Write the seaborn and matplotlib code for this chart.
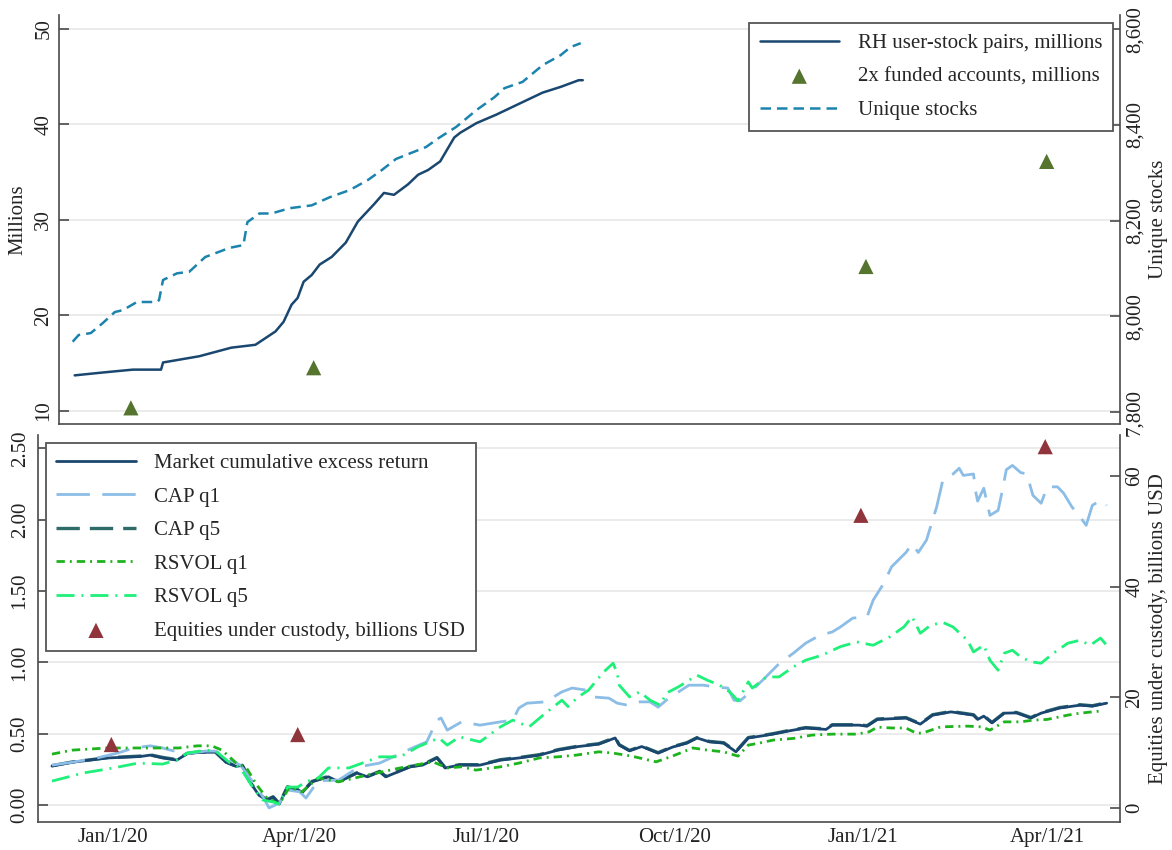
import pandas as pd
import matplotlib.pyplot as plt
import seaborn as sns

# ---------------- top panel data ----------------
rh_dates = ["2019-12-03", "2019-12-17", "2020-01-01", "2020-01-15", "2020-01-16", "2020-02-03",
            "2020-02-19", "2020-03-02", "2020-03-07", "2020-03-12", "2020-03-16", "2020-03-20",
            "2020-03-23", "2020-03-26", "2020-03-30", "2020-04-03", "2020-04-09", "2020-04-16",
            "2020-04-22", "2020-04-30", "2020-05-05", "2020-05-10", "2020-05-17", "2020-05-22",
            "2020-05-27", "2020-06-02", "2020-06-09", "2020-06-12", "2020-06-20", "2020-06-30",
            "2020-07-08", "2020-07-16", "2020-07-23", "2020-08-01", "2020-08-10", "2020-08-12"]
rh_pairs = [13.7, 14.0, 14.3, 14.3, 15.05, 15.7,
            16.6, 16.9, 17.6, 18.3, 19.3, 21.1,
            21.8, 23.5, 24.2, 25.3, 26.1, 27.6,
            29.8, 31.6, 32.8, 32.6, 33.7, 34.7,
            35.2, 36.1, 38.6, 39.1, 40.1, 41.0,
            41.8, 42.6, 43.3, 43.9, 44.6, 44.6]

stock_dates = ["2019-12-02", "2019-12-05", "2019-12-11", "2019-12-17", "2019-12-23", "2019-12-27",
               "2020-01-03", "2020-01-13", "2020-01-14", "2020-01-16", "2020-01-23", "2020-01-29",
               "2020-02-06", "2020-02-18", "2020-02-25", "2020-02-27", "2020-03-04", "2020-03-10",
               "2020-03-19", "2020-03-30", "2020-04-08", "2020-04-18", "2020-04-27", "2020-05-04",
               "2020-05-11", "2020-05-17", "2020-05-26", "2020-06-01", "2020-06-10", "2020-06-20",
               "2020-06-29", "2020-07-04", "2020-07-13", "2020-07-23", "2020-08-01", "2020-08-06",
               "2020-08-11"]
unique_stocks = [7947, 7961, 7965, 7986, 8009, 8013,
                 8030, 8030, 8034, 8076, 8090, 8093,
                 8124, 8143, 8149, 8197, 8215, 8215,
                 8226, 8232, 8249, 8264, 8285, 8306,
                 8329, 8339, 8354, 8372, 8396, 8431,
                 8458, 8477, 8490, 8525, 8546, 8563,
                 8571]

funded_dates = ["2019-12-31", "2020-03-31", "2020-12-31", "2021-03-31"]
funded_2x = [10.3, 14.5, 25.1, 36.1]

# ---------------- bottom panel data ----------------
mkt_dates = ["2019-12-02", "2019-12-12", "2019-12-29", "2020-01-14", "2020-01-19", "2020-01-25",
             "2020-02-01", "2020-02-06", "2020-02-12", "2020-02-20", "2020-02-25", "2020-03-01",
             "2020-03-04", "2020-03-07", "2020-03-12", "2020-03-16", "2020-03-19", "2020-03-22",
             "2020-03-26", "2020-03-31", "2020-04-02", "2020-04-07", "2020-04-15", "2020-04-20",
             "2020-04-29", "2020-05-04", "2020-05-10", "2020-05-13", "2020-05-25", "2020-05-31",
             "2020-06-07", "2020-06-11", "2020-06-18", "2020-06-28", "2020-07-08", "2020-07-17",
             "2020-07-27", "2020-08-05", "2020-08-15", "2020-08-25", "2020-09-02", "2020-09-04",
             "2020-09-09", "2020-09-15", "2020-09-23", "2020-09-30", "2020-10-07", "2020-10-12",
             "2020-10-18", "2020-10-25", "2020-10-31", "2020-11-06", "2020-11-12", "2020-11-18",
             "2020-11-26", "2020-12-04", "2020-12-14", "2020-12-17", "2020-12-30", "2021-01-03",
             "2021-01-08", "2021-01-22", "2021-01-29", "2021-02-04", "2021-02-13", "2021-02-24",
             "2021-02-26", "2021-03-01", "2021-03-05", "2021-03-11", "2021-03-17", "2021-03-24",
             "2021-03-29", "2021-04-07", "2021-04-17", "2021-04-23", "2021-04-30"]
mkt_ret = [0.273, 0.30, 0.33, 0.34, 0.35, 0.33,
           0.315, 0.36, 0.37, 0.37, 0.30, 0.27,
           0.28, 0.175, 0.07, 0.035, 0.056, 0.007,
           0.126, 0.105, 0.084, 0.163, 0.198, 0.163,
           0.224, 0.198, 0.233, 0.198, 0.268, 0.28,
           0.33, 0.26, 0.28, 0.28, 0.315, 0.33,
           0.35, 0.385, 0.41, 0.427, 0.47, 0.42,
           0.38, 0.41, 0.364, 0.406, 0.434, 0.47,
           0.443, 0.434, 0.373, 0.47, 0.483, 0.497,
           0.52, 0.54, 0.53, 0.56, 0.56, 0.553,
           0.60, 0.61, 0.567, 0.63, 0.653, 0.63,
           0.60, 0.623, 0.576, 0.644, 0.646, 0.61,
           0.644, 0.68, 0.70, 0.693, 0.714]
cap_q5 = [0.276, 0.302, 0.332, 0.343, 0.352, 0.334,
          0.318, 0.362, 0.372, 0.368, 0.302, 0.272,
          0.283, 0.178, 0.073, 0.038, 0.058, 0.010,
          0.128, 0.108, 0.088, 0.166, 0.201, 0.166,
          0.227, 0.201, 0.236, 0.201, 0.271, 0.283,
          0.333, 0.263, 0.283, 0.283, 0.318, 0.333,
          0.353, 0.388, 0.413, 0.430, 0.473, 0.423,
          0.383, 0.413, 0.367, 0.409, 0.437, 0.473,
          0.446, 0.437, 0.376, 0.473, 0.486, 0.500,
          0.523, 0.543, 0.533, 0.563, 0.563, 0.556,
          0.603, 0.613, 0.570, 0.633, 0.656, 0.633,
          0.603, 0.626, 0.579, 0.647, 0.649, 0.613,
          0.647, 0.683, 0.703, 0.696, 0.717]

capq1_dates = ["2019-12-02", "2019-12-12", "2019-12-24", "2020-01-03", "2020-01-11", "2020-01-19",
               "2020-01-25", "2020-02-01", "2020-02-06", "2020-02-15", "2020-02-20", "2020-02-25",
               "2020-03-03", "2020-03-09", "2020-03-14", "2020-03-17", "2020-03-22", "2020-03-26",
               "2020-04-01", "2020-04-04", "2020-04-10", "2020-04-20", "2020-04-30", "2020-05-10",
               "2020-05-26", "2020-06-02", "2020-06-07", "2020-06-09", "2020-06-12", "2020-06-19",
               "2020-06-28", "2020-07-08", "2020-07-14", "2020-07-17", "2020-07-21", "2020-07-30",
               "2020-08-07", "2020-08-12", "2020-08-19", "2020-08-22", "2020-08-30", "2020-09-03",
               "2020-09-08", "2020-09-14", "2020-09-19", "2020-09-23", "2020-09-27", "2020-10-03",
               "2020-10-08", "2020-10-15", "2020-10-22", "2020-10-27", "2020-10-30", "2020-11-02",
               "2020-11-07", "2020-11-13", "2020-11-21", "2020-11-28", "2020-12-04", "2020-12-11",
               "2020-12-17", "2020-12-21", "2020-12-27", "2021-01-03", "2021-01-06", "2021-01-11",
               "2021-01-15", "2021-01-22", "2021-01-25", "2021-01-28", "2021-02-01", "2021-02-06",
               "2021-02-09", "2021-02-14", "2021-02-17", "2021-02-19", "2021-02-24", "2021-02-25",
               "2021-02-26", "2021-03-01", "2021-03-04", "2021-03-08", "2021-03-10", "2021-03-12",
               "2021-03-15", "2021-03-19", "2021-03-22", "2021-03-25", "2021-03-29", "2021-04-01",
               "2021-04-06", "2021-04-09", "2021-04-13", "2021-04-17", "2021-04-20", "2021-04-23",
               "2021-04-27", "2021-04-30"]
cap_q1 = [0.28, 0.30, 0.33, 0.364, 0.40, 0.415,
          0.40, 0.373, 0.36, 0.378, 0.378, 0.33,
          0.28, 0.163, 0.058, -0.02, 0.014, 0.105,
          0.093, 0.049, 0.17, 0.175, 0.268, 0.294,
          0.40, 0.443, 0.595, 0.61, 0.525, 0.583,
          0.56, 0.583, 0.595, 0.68, 0.714, 0.723,
          0.793, 0.82, 0.805, 0.758, 0.749, 0.714,
          0.70, 0.723, 0.723, 0.686, 0.735, 0.793,
          0.84, 0.84, 0.826, 0.82, 0.735, 0.73,
          0.793, 0.875, 0.99, 1.064, 1.134, 1.19,
          1.213, 1.248, 1.31, 1.32, 1.436, 1.55,
          1.67, 1.77, 1.83, 1.77, 1.856, 2.09,
          2.276, 2.32, 2.36, 2.31, 2.32, 2.2,
          2.13, 2.22, 2.03, 2.065, 2.2, 2.35,
          2.38, 2.33, 2.32, 2.17, 2.115, 2.23,
          2.23, 2.185, 2.09, 2.02, 1.96, 2.10,
          2.136, 2.10]

rsq1_dates = ["2019-12-02", "2019-12-12", "2019-12-29", "2020-01-14", "2020-02-02", "2020-02-11",
              "2020-02-18", "2020-02-23", "2020-03-01", "2020-03-06", "2020-03-11", "2020-03-16",
              "2020-03-22", "2020-03-27", "2020-04-02", "2020-04-10", "2020-04-20", "2020-05-04",
              "2020-05-20", "2020-06-05", "2020-06-12", "2020-06-19", "2020-06-26", "2020-07-08",
              "2020-07-17", "2020-07-27", "2020-08-05", "2020-08-14", "2020-08-25", "2020-09-01",
              "2020-09-10", "2020-09-22", "2020-09-30", "2020-10-10", "2020-10-17", "2020-10-25",
              "2020-11-01", "2020-11-06", "2020-11-12", "2020-11-18", "2020-11-28", "2020-12-07",
              "2020-12-17", "2020-12-29", "2021-01-04", "2021-01-08", "2021-01-15", "2021-01-22",
              "2021-01-27", "2021-01-30", "2021-02-08", "2021-02-21", "2021-02-28", "2021-03-04",
              "2021-03-11", "2021-03-19", "2021-03-25", "2021-04-01", "2021-04-11", "2021-04-17",
              "2021-04-23", "2021-04-28"]
rsvol_q1 = [0.357, 0.385, 0.40, 0.40, 0.40, 0.415,
            0.415, 0.385, 0.294, 0.26, 0.14, 0.049,
            0.007, 0.126, 0.093, 0.19, 0.163, 0.21,
            0.26, 0.303, 0.26, 0.268, 0.245, 0.268,
            0.294, 0.33, 0.338, 0.35, 0.373, 0.364,
            0.343, 0.303, 0.343, 0.40, 0.385, 0.373,
            0.343, 0.42, 0.436, 0.455, 0.467, 0.49,
            0.497, 0.497, 0.513, 0.546, 0.54, 0.54,
            0.504, 0.504, 0.548, 0.553, 0.548, 0.525,
            0.583, 0.583, 0.595, 0.60, 0.63, 0.644,
            0.653, 0.66]

rsq5_dates = ["2019-12-02", "2019-12-08", "2019-12-17", "2020-01-01", "2020-01-13", "2020-01-25",
              "2020-02-01", "2020-02-06", "2020-02-15", "2020-02-20", "2020-02-27", "2020-03-03",
              "2020-03-09", "2020-03-14", "2020-03-19", "2020-03-22", "2020-03-26", "2020-03-31",
              "2020-04-04", "2020-04-10", "2020-04-15", "2020-04-25", "2020-05-10", "2020-05-20",
              "2020-05-29", "2020-06-08", "2020-06-12", "2020-06-18", "2020-06-28", "2020-07-08",
              "2020-07-14", "2020-07-22", "2020-07-30", "2020-08-07", "2020-08-10", "2020-08-15",
              "2020-08-20", "2020-08-27", "2020-09-01", "2020-09-03", "2020-09-04", "2020-09-09",
              "2020-09-14", "2020-09-19", "2020-09-24", "2020-09-27", "2020-10-03", "2020-10-12",
              "2020-10-17", "2020-10-23", "2020-10-28", "2020-11-01", "2020-11-06", "2020-11-08",
              "2020-11-15", "2020-11-21", "2020-11-28", "2020-12-04", "2020-12-12", "2020-12-21",
              "2020-12-29", "2021-01-06", "2021-01-14", "2021-01-21", "2021-01-25", "2021-01-29",
              "2021-02-03", "2021-02-09", "2021-02-14", "2021-02-21", "2021-02-24", "2021-03-01",
              "2021-03-04", "2021-03-08", "2021-03-11", "2021-03-15", "2021-03-19", "2021-03-24",
              "2021-03-29", "2021-04-04", "2021-04-11", "2021-04-17", "2021-04-22", "2021-04-27",
              "2021-04-30"]
rsvol_q5 = [0.168, 0.19, 0.224, 0.26, 0.294, 0.287,
            0.315, 0.364, 0.385, 0.378, 0.294, 0.26,
            0.126, 0.035, 0.021, 0.007, 0.126, 0.126,
            0.163, 0.19, 0.26, 0.26, 0.338, 0.338,
            0.41, 0.47, 0.42, 0.478, 0.443, 0.548,
            0.595, 0.548, 0.644, 0.735, 0.69, 0.758,
            0.805, 0.927, 0.994, 0.924, 0.84, 0.758,
            0.793, 0.735, 0.70, 0.784, 0.829, 0.91,
            0.875, 0.84, 0.793, 0.73, 0.863, 0.82,
            0.898, 0.898, 0.968, 1.015, 1.05, 1.11,
            1.143, 1.12, 1.178, 1.248, 1.32, 1.204,
            1.26, 1.28, 1.248, 1.155, 1.073, 1.12,
            1.015, 0.945, 1.064, 1.085, 1.038, 1.004,
            0.994, 1.064, 1.134, 1.155, 1.12, 1.17,
            1.12]

custody_dates = ["2019-12-31", "2020-03-31", "2020-12-31", "2021-03-31"]
custody_bn = [11.5, 13.3, 52.9, 65.3]

xtick_dates = ["2020-01-01", "2020-04-01", "2020-07-01", "2020-10-01", "2021-01-01", "2021-04-01"]
xtick_labels = ["Jan/1/20", "Apr/1/20", "Jul/1/20", "Oct/1/20", "Jan/1/21", "Apr/1/21"]

# ---------------- style ----------------
sns.set_style("white")
plt.rcParams["font.family"] = ["Liberation Serif", "DejaVu Serif"]
FS = 15
SPINE = "#4a4a4a"
NAVY = "#1a476f"

fig = plt.figure(figsize=(11.72, 8.5), dpi=100)
ax1 = fig.add_axes([0.0503, 0.5012, 0.9053, 0.4812])
ax1r = ax1.twinx()
ax2 = fig.add_axes([0.0324, 0.0329, 0.9232, 0.4553])
ax2r = ax2.twinx()


def dt(d):
    return pd.to_datetime(pd.Series(d)).values


def line(ax, d, v, **kw):
    sns.lineplot(x=dt(d), y=v, ax=ax, legend=False, errorbar=None, **kw)


# ---- top panel ----
line(ax1, rh_dates, rh_pairs, color=NAVY, lw=1.8, label="RH user-stock pairs, millions")
sns.scatterplot(x=dt(funded_dates), y=funded_2x, ax=ax1, marker="^", s=120, color="#55752f",
                edgecolor="none", legend=False, label="2x funded accounts, millions")
line(ax1r, stock_dates, unique_stocks, color="#1c83ad", lw=1.8, linestyle=(0, (4.2, 2.4)),
     label="Unique stocks")

# ---- bottom panel ----
line(ax2, mkt_dates, cap_q5, color="#2f6b68", lw=2.4, linestyle=(0, (7, 3)), label="CAP q5")
line(ax2, mkt_dates, mkt_ret, color=NAVY, lw=2.0, label="Market cumulative excess return")
line(ax2, capq1_dates, cap_q1, color="#8bbde6", lw=2.0, linestyle=(0, (12, 4.5)), label="CAP q1")
line(ax2, rsq1_dates, rsvol_q1, color="#1db31d", lw=2.0, linestyle=(0, (3, 1.8, 0.7, 1.8)),
     label="RSVOL q1")
line(ax2, rsq5_dates, rsvol_q5, color="#1ef07a", lw=2.0, linestyle=(0, (6.5, 2.5, 0.7, 2.5)),
     label="RSVOL q5")
sns.scatterplot(x=dt(custody_dates), y=custody_bn, ax=ax2r, marker="^", s=120, color="#90353b",
                edgecolor="none", legend=False, label="Equities under custody, billions USD")

# ---- axes formatting ----
xlim = (pd.Timestamp("2019-11-25 04:00"), pd.Timestamp("2021-05-06 12:00"))
for ax in (ax1, ax2):
    ax.set_xlim(*xlim)
    ax.set_xticks(dt(xtick_dates))
    ax.yaxis.grid(True, color="#ebebeb", lw=1.4)
    ax.xaxis.grid(False)
    ax.set_axisbelow(True)
    ax.set_xlabel("")
for ax in (ax1, ax1r, ax2, ax2r):
    for s in ax.spines.values():
        s.set_color(SPINE)
        s.set_linewidth(1.2)
    ax.spines["top"].set_visible(False)
    ax.tick_params(direction="in", length=7, width=1.2, color=SPINE, labelsize=FS,
                   labelcolor="#222222")
for ax in (ax1, ax2):
    ax.spines["right"].set_visible(False)
for ax in (ax1r, ax2r):
    ax.spines["left"].set_visible(False)
    ax.spines["bottom"].set_visible(False)

ax1.tick_params(axis="x", labelbottom=False)
ax2.set_xticklabels(xtick_labels)
ax2.tick_params(axis="x", pad=4)

ax1.set_ylim(8.61, 51.43)
ax1.set_yticks([10, 20, 30, 40, 50], ["10", "20", "30", "40", "50"], rotation=90, va="center")
ax1.tick_params(axis="y", pad=4)
ax1.set_ylabel("Millions", fontsize=FS, labelpad=5)

ax1r.set_ylim(7775, 8630)
ax1r.set_yticks([7800, 8000, 8200, 8400, 8600], ["7,800", "8,000", "8,200", "8,400", "8,600"],
                rotation=90, va="center")
ax1r.tick_params(axis="y", pad=4)
ax1r.set_ylabel("Unique stocks", fontsize=FS, labelpad=3)

ax2.set_ylim(-0.119, 2.593)
ax2.set_yticks([0, 0.5, 1.0, 1.5, 2.0, 2.5], ["0.00", "0.50", "1.00", "1.50", "2.00", "2.50"],
               rotation=90, va="center")
ax2.tick_params(axis="y", pad=6)
ax2.set_ylabel("")

ax2r.set_ylim(-2.5, 67.4)
ax2r.set_yticks([0, 20, 40, 60], ["0", "20", "40", "60"], rotation=90, va="center")
ax2r.tick_params(axis="y", pad=4)
ax2r.set_ylabel("Equities under custody, billions USD", fontsize=FS, labelpad=3)

# ---- legends ----
leg_kw = dict(fontsize=FS, frameon=True, fancybox=False, framealpha=1, edgecolor="#555555",
              handlelength=3.8, handletextpad=0.9, labelspacing=0.67, borderpad=0.5,
              borderaxespad=0)

h1, l1 = ax1.get_legend_handles_labels()
h1r, l1r = ax1r.get_legend_handles_labels()
lg1 = ax1r.legend(h1 + h1r, l1 + l1r, loc="upper right", bbox_to_anchor=(0.993, 0.980), **leg_kw)
lg1.get_frame().set_linewidth(1.3)

h2, l2 = ax2.get_legend_handles_labels()
h2r, l2r = ax2r.get_legend_handles_labels()
hmap = dict(zip(l2 + l2r, h2 + h2r))
order = ["Market cumulative excess return", "CAP q1", "CAP q5", "RSVOL q1", "RSVOL q5",
         "Equities under custody, billions USD"]
lg2 = ax2r.legend([hmap[k] for k in order], order, loc="upper left",
                  bbox_to_anchor=(0.0074, 0.979), **leg_kw)
lg2.get_frame().set_linewidth(1.3)

fig.savefig("out.png", dpi=100)
